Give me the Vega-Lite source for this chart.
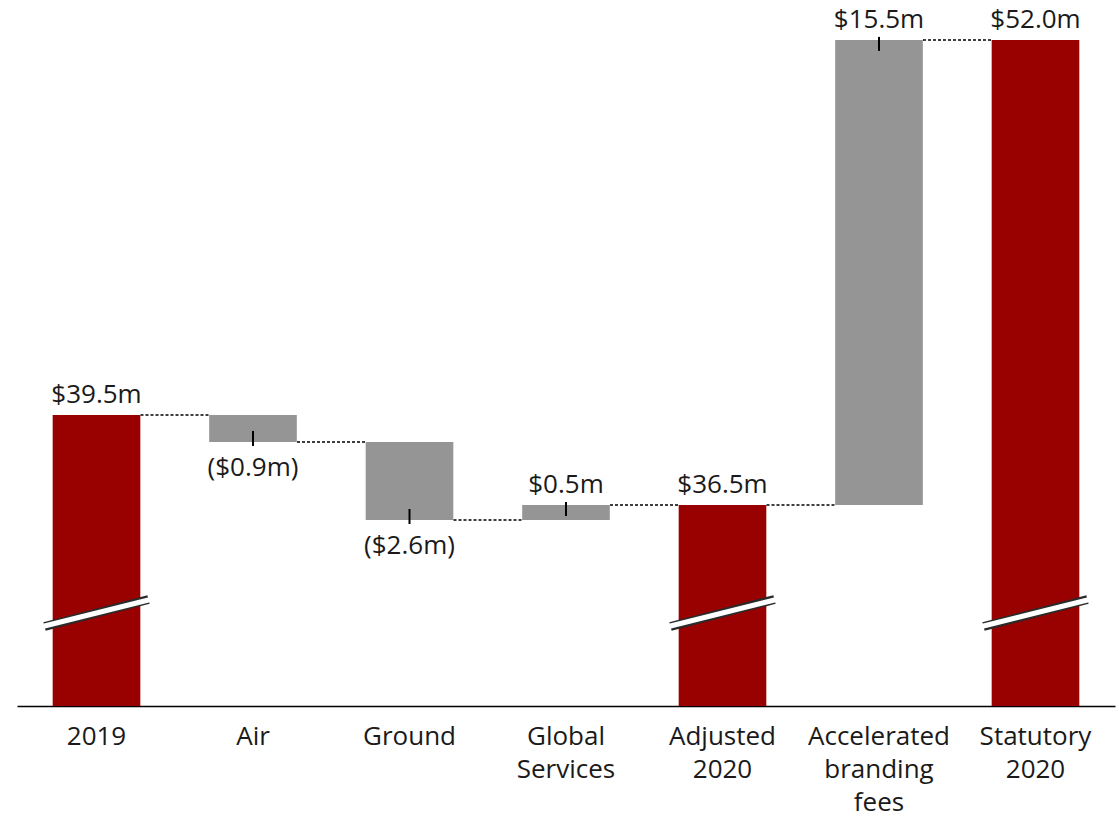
{
  "$schema": "https://vega.github.io/schema/vega-lite/v6.json",
  "width": 1098,
  "height": 706,
  "autosize": {"type": "none"},
  "padding": {"left": 17, "top": 0, "right": 4, "bottom": 111},
  "background": "white",
  "config": {"view": {"stroke": null}, "font": "Open Sans"},
  "data": {"values": [
    {"cat": "2019", "start": 0, "end": 39.5, "type": "total", "text": "$39.5m", "next": "Air"},
    {"cat": "Air", "start": 39.5, "end": 38.6, "type": "down", "text": "($0.9m)", "next": "Ground"},
    {"cat": "Ground", "start": 38.6, "end": 36.0, "type": "down", "text": "($2.6m)", "next": "Global|Services"},
    {"cat": "Global|Services", "start": 36.0, "end": 36.5, "type": "up", "text": "$0.5m", "next": "Adjusted|2020"},
    {"cat": "Adjusted|2020", "start": 0, "end": 36.5, "type": "total", "text": "$36.5m", "next": "Accelerated|branding|fees"},
    {"cat": "Accelerated|branding|fees", "start": 36.5, "end": 52.0, "type": "up", "text": "$15.5m", "next": "Statutory|2020"},
    {"cat": "Statutory|2020", "start": 0, "end": 52.0, "type": "total", "text": "$52.0m", "next": null}
  ]},
  "encoding": {
    "x": {
      "field": "cat", "type": "nominal",
      "scale": {
        "domain": ["2019", "Air", "Ground", "Global|Services", "Adjusted|2020", "Accelerated|branding|fees", "Statutory|2020"],
        "paddingInner": 0.44, "paddingOuter": 0.228
      },
      "axis": {
        "title": null, "ticks": false, "grid": false, "labelAngle": 0,
        "labelExpr": "split(datum.value, '|')",
        "labelFont": "Open Sans", "labelFontSize": 26, "labelColor": "#1a1a1a",
        "labelLineHeight": 33, "labelPadding": 17, "labelBaseline": "top",
        "domainColor": "#000000", "domainWidth": 1.5
      }
    }
  },
  "layer": [
    {
      "mark": {"type": "bar", "clip": true},
      "encoding": {
        "y": {"field": "start", "type": "quantitative", "scale": {"domain": [29.8, 53.33], "zero": false, "nice": false}, "axis": null},
        "y2": {"field": "end"},
        "color": {"field": "type", "type": "nominal", "scale": {"domain": ["total", "up", "down"], "range": ["#990000", "#959595", "#959595"]}, "legend": null}
      }
    },
    {
      "transform": [{"filter": "datum.next != null"}],
      "mark": {"type": "rule", "strokeDash": [3, 2], "strokeWidth": 1.5, "color": "#000000", "xOffset": 44, "x2Offset": -44},
      "encoding": {
        "x2": {"field": "next"},
        "y": {"field": "end", "type": "quantitative"}
      }
    },
    {
      "transform": [{"filter": "datum.type == 'total'"}],
      "mark": {"type": "rule", "strokeWidth": 9, "color": "#2a2a2a", "xOffset": -52, "x2Offset": 52},
      "encoding": {
        "x2": {"field": "cat"},
        "y": {"datum": 32.45},
        "y2": {"datum": 33.35}
      }
    },
    {
      "transform": [{"filter": "datum.type == 'total'"}],
      "mark": {"type": "rule", "strokeWidth": 5, "color": "#ffffff", "xOffset": -54, "x2Offset": 54},
      "encoding": {
        "x2": {"field": "cat"},
        "y": {"datum": 32.45},
        "y2": {"datum": 33.35}
      }
    },
    {
      "transform": [{"filter": "datum.type == 'up'"}],
      "mark": {"type": "rule", "strokeWidth": 2, "color": "#000000", "yOffset": -3, "y2Offset": 11},
      "encoding": {
        "y": {"field": "end", "type": "quantitative"},
        "y2": {"field": "end"}
      }
    },
    {
      "transform": [{"filter": "datum.type == 'down'"}],
      "mark": {"type": "rule", "strokeWidth": 2, "color": "#000000", "yOffset": -11, "y2Offset": 4},
      "encoding": {
        "y": {"field": "end", "type": "quantitative"},
        "y2": {"field": "end"}
      }
    },
    {
      "transform": [{"filter": "datum.type != 'down'"}],
      "mark": {"type": "text", "font": "Open Sans", "fontSize": 26, "color": "#1a1a1a", "baseline": "middle", "dy": -20},
      "encoding": {
        "y": {"field": "end", "type": "quantitative"},
        "text": {"field": "text"}
      }
    },
    {
      "transform": [{"filter": "datum.type == 'down'"}],
      "mark": {"type": "text", "font": "Open Sans", "fontSize": 26, "color": "#1a1a1a", "baseline": "middle", "dy": 26},
      "encoding": {
        "y": {"field": "end", "type": "quantitative"},
        "text": {"field": "text"}
      }
    }
  ]
}
